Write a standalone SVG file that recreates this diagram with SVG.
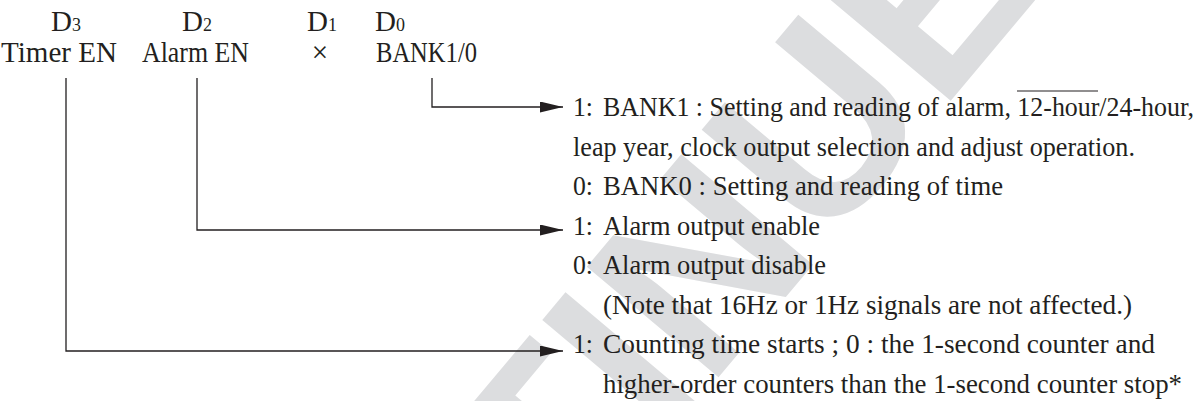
<svg xmlns="http://www.w3.org/2000/svg" width="1199" height="401" viewBox="0 0 1199 401">
  <style>
    .wm { font-family: "Liberation Sans", Arial, sans-serif; font-weight: bold; font-size: 250px; fill: #dcdddf; }
    .hd { font-family: "Liberation Serif", "Times New Roman", serif; font-size: 29px; fill: #231f20; }
    .sub { font-size: 18px; }
    .tx { font-family: "Liberation Serif", "Times New Roman", serif; font-size: 27.5px; fill: #231f20; }
    .conn { fill: none; stroke: #231f20; stroke-width: 1.3; }
  </style>
  <defs>
    <marker id="arr" markerUnits="userSpaceOnUse" markerWidth="23" markerHeight="11" viewBox="0 0 23 11" refX="23" refY="5.5" orient="auto">
      <path d="M0,0 L23,5.5 L0,11 z" fill="#231f20"/>
    </marker>
  </defs>
  <rect width="1199" height="401" fill="#ffffff"/>

  <g id="watermark" transform="translate(-60,1305) rotate(-50)">
    <text class="wm" x="0" y="0">DISCONTINUED</text>
  </g>

  <g id="bits">
    <g id="d3"><text class="hd" x="51" y="31">D<tspan class="sub">3</tspan></text>
      <text class="hd" x="1" y="62" textLength="116" lengthAdjust="spacingAndGlyphs">Timer EN</text></g>
    <g id="d2"><text class="hd" x="182" y="31">D<tspan class="sub">2</tspan></text>
      <text class="hd" x="142" y="62" textLength="107" lengthAdjust="spacingAndGlyphs">Alarm EN</text></g>
    <g id="d1"><text class="hd" x="307" y="31">D<tspan class="sub">1</tspan></text>
      <text class="hd" x="320" y="62" text-anchor="middle">×</text></g>
    <g id="d0"><text class="hd" x="375" y="31">D<tspan class="sub">0</tspan></text>
      <text class="hd" x="376" y="62" textLength="101" lengthAdjust="spacingAndGlyphs">BANK1/0</text></g>
  </g>

  <g id="connectors">
    <path class="conn" d="M432,78 V107 H563" marker-end="url(#arr)"/>
    <path class="conn" d="M197,78 V230 H563" marker-end="url(#arr)"/>
    <path class="conn" d="M66,78 V351 H563" marker-end="url(#arr)"/>
  </g>

  <g id="bank-desc">
    <text class="tx" x="573" y="116" textLength="20" lengthAdjust="spacingAndGlyphs">1:</text>
    <text class="tx" x="603" y="116" textLength="591" lengthAdjust="spacingAndGlyphs">BANK1 : Setting and reading of alarm, 12-hour/24-hour,</text>
    <line x1="1017" y1="91" x2="1098" y2="91" stroke="#231f20" stroke-width="1.2"/>
    <text class="tx" x="573" y="155.5" textLength="562" lengthAdjust="spacingAndGlyphs">leap year, clock output selection and adjust operation.</text>
    <text class="tx" x="573" y="195" textLength="20" lengthAdjust="spacingAndGlyphs">0:</text>
    <text class="tx" x="603" y="195" textLength="400" lengthAdjust="spacingAndGlyphs">BANK0 : Setting and reading of time</text>
  </g>

  <g id="alarm-desc">
    <text class="tx" x="573" y="234.5" textLength="20" lengthAdjust="spacingAndGlyphs">1:</text>
    <text class="tx" x="603" y="234.5" textLength="217" lengthAdjust="spacingAndGlyphs">Alarm output enable</text>
    <text class="tx" x="573" y="274" textLength="20" lengthAdjust="spacingAndGlyphs">0:</text>
    <text class="tx" x="603" y="274" textLength="223" lengthAdjust="spacingAndGlyphs">Alarm output disable</text>
    <text class="tx" x="603" y="313.5" textLength="529" lengthAdjust="spacingAndGlyphs">(Note that 16Hz or 1Hz signals are not affected.)</text>
  </g>

  <g id="timer-desc">
    <text class="tx" x="573" y="353" textLength="20" lengthAdjust="spacingAndGlyphs">1:</text>
    <text class="tx" x="603" y="353" textLength="552" lengthAdjust="spacingAndGlyphs">Counting time starts ; 0 : the 1-second counter and</text>
    <text class="tx" x="603" y="392.5" textLength="579" lengthAdjust="spacingAndGlyphs">higher-order counters than the 1-second counter stop*</text>
  </g>
</svg>
